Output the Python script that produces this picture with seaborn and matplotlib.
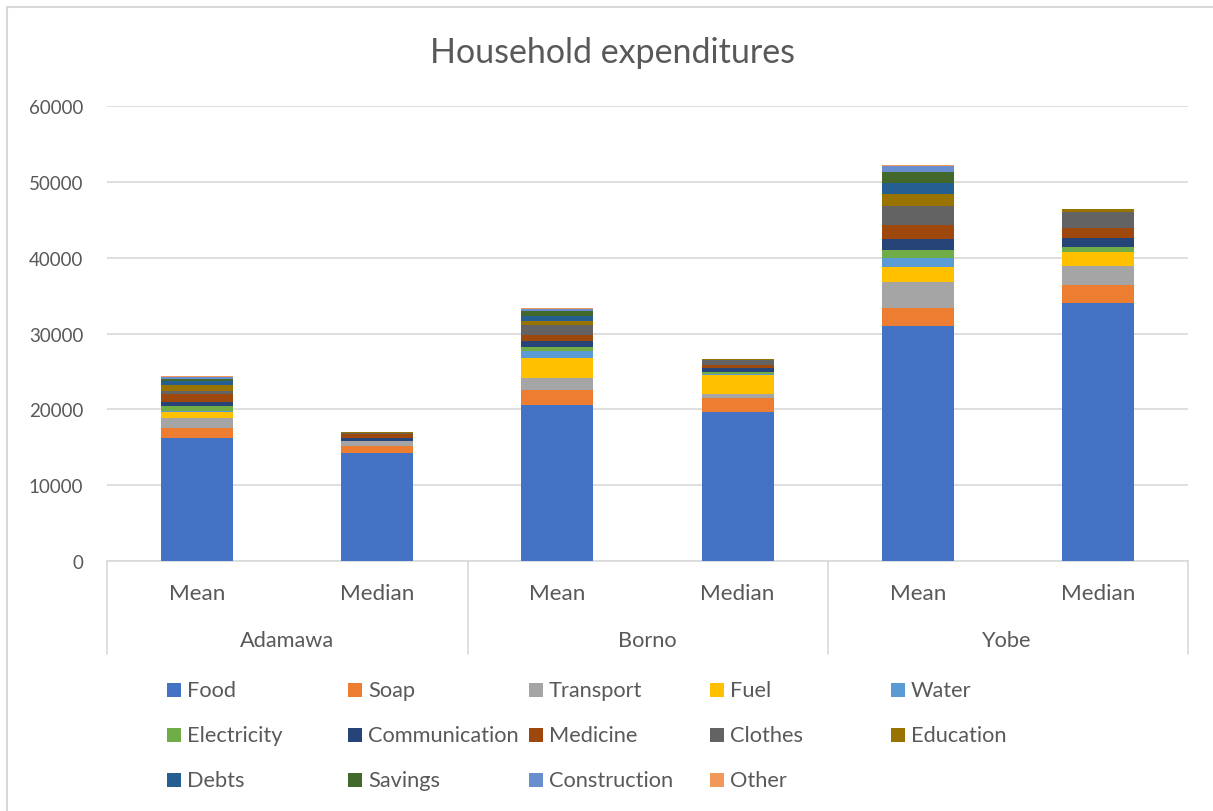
import matplotlib
matplotlib.use("Agg")
import matplotlib.pyplot as plt
from matplotlib.patches import Rectangle
from matplotlib.lines import Line2D
import numpy as np
import pandas as pd
import seaborn as sns

# ---- data ----
states = ["Adamawa", "Borno", "Yobe"]
stats = ["Mean", "Median"]

expense_items = ["Food", "Soap", "Transport", "Fuel", "Water", "Electricity",
                 "Communication", "Medicine", "Clothes", "Education", "Debts",
                 "Savings", "Construction", "Other"]

# order of bars: Adamawa Mean, Adamawa Median, Borno Mean, Borno Median, Yobe Mean, Yobe Median
food = [16260, 14280, 20610, 19690, 31030, 34070]
soap = [1320, 890, 1900, 1810, 2290, 2290]
transport = [1280, 660, 1620, 560, 3430, 2500]
fuel = [750, 0, 2640, 2470, 2060, 1930]
water = [210, 0, 960, 100, 1150, 0]
electricity = [620, 0, 530, 250, 1100, 620]
communication = [570, 430, 750, 530, 1400, 1230]
medicine = [1010, 530, 830, 400, 1890, 1310]
clothes = [400, 100, 1240, 740, 2500, 2120]
education = [830, 160, 530, 50, 1550, 350]
debts = [490, 0, 660, 0, 1490, 0]
savings = [300, 0, 700, 0, 1450, 0]
construction = [200, 0, 260, 0, 710, 0]
other = [120, 0, 170, 0, 170, 0]

series = [food, soap, transport, fuel, water, electricity, communication,
          medicine, clothes, education, debts, savings, construction, other]

colors = ["#4472C4", "#ED7D31", "#A5A5A5", "#FFC000", "#5B9BD5", "#70AD47",
          "#264478", "#9E480E", "#636363", "#997300", "#255E91", "#43682B",
          "#698ED0", "#F1975A"]

yticks = [0, 10000, 20000, 30000, 40000, 50000, 60000]

# ---- figure ----
W, H = 1213, 812
sns.set_theme(style="white")
plt.rcParams["font.family"] = ["Lato", "DejaVu Sans"]
TXT = "#595959"
GRID = "#D9D9D9"

fig = plt.figure(figsize=(W / 100, H / 100), dpi=100)
fig.patch.set_facecolor("white")

def fx(px):
    return px / W

def fy(py):
    return 1 - py / H

ax = fig.add_axes([fx(107), fy(562), fx(1188) - fx(107), fy(107) - fy(562)])

bar_keys = [f"{s}|{m}" for s in states for m in stats]
df = pd.DataFrame({name: vals for name, vals in zip(expense_items, series)})
df["bar"] = bar_keys
cum = df[expense_items].cumsum(axis=1)
cum["bar"] = bar_keys

# stacked bars: draw cumulative totals from the top layer down
for name, col in reversed(list(zip(expense_items, colors))):
    sns.barplot(data=cum, x="bar", y=name, order=bar_keys, color=col,
                width=0.4, linewidth=0, saturation=1, ax=ax, zorder=3)

ax.set_xlim(-0.5, 5.5)
ax.set_ylim(0, 60000)
ax.set_yticks(yticks)
ax.set_yticklabels([str(v) for v in yticks], fontsize=13.5, color=TXT)
ax.tick_params(axis="y", length=0, pad=17)
ax.set_xticks(range(6))
ax.set_xticklabels([m for s in states for m in stats], fontsize=16.2, color=TXT)
ax.tick_params(axis="x", length=0, pad=16)
ax.set_xlabel("")
ax.set_ylabel("")
ax.grid(axis="y", color=GRID, linewidth=1.2, zorder=0)
ax.grid(axis="x", visible=False)
for side in ["top", "left", "right"]:
    ax.spines[side].set_visible(False)
ax.spines["bottom"].set_color(GRID)
ax.spines["bottom"].set_linewidth(1.2)
ax.set_axisbelow(True)

# category separators for the two-level axis
for px in [107, 468, 828, 1188]:
    fig.add_artist(Line2D([fx(px), fx(px)], [fy(562), fy(655)],
                          transform=fig.transFigure, color=GRID, linewidth=1.2))

for i, s in enumerate(states):
    cx = 107 + 180 * (2 * i + 1)
    fig.text(fx(cx), fy(641), s, ha="center", va="center", fontsize=15.7, color=TXT)

# title
fig.text(fx(612), fy(53), "Household expenditures", ha="center", va="center",
         fontsize=24.5, color=TXT)

# legend, 5 columns x 3 rows
for k, (name, col) in enumerate(zip(expense_items, colors)):
    r, c = divmod(k, 5)
    x0 = 167 + 181 * c
    yc = 691 + 45 * r
    fig.add_artist(Rectangle((fx(x0), fy(yc + 7)), 14 / W, 14 / H,
                             transform=fig.transFigure, facecolor=col,
                             edgecolor="none"))
    fig.text(fx(x0 + 20), fy(yc), name, ha="left", va="center",
             fontsize=15.7, color=TXT)

# chart border
fig.add_artist(Rectangle((fx(7), -0.05), 1.1, fy(8) + 0.05,
                         transform=fig.transFigure, facecolor="none",
                         edgecolor=GRID, linewidth=1.5))

fig.savefig("out.png", dpi=100, facecolor="white")
